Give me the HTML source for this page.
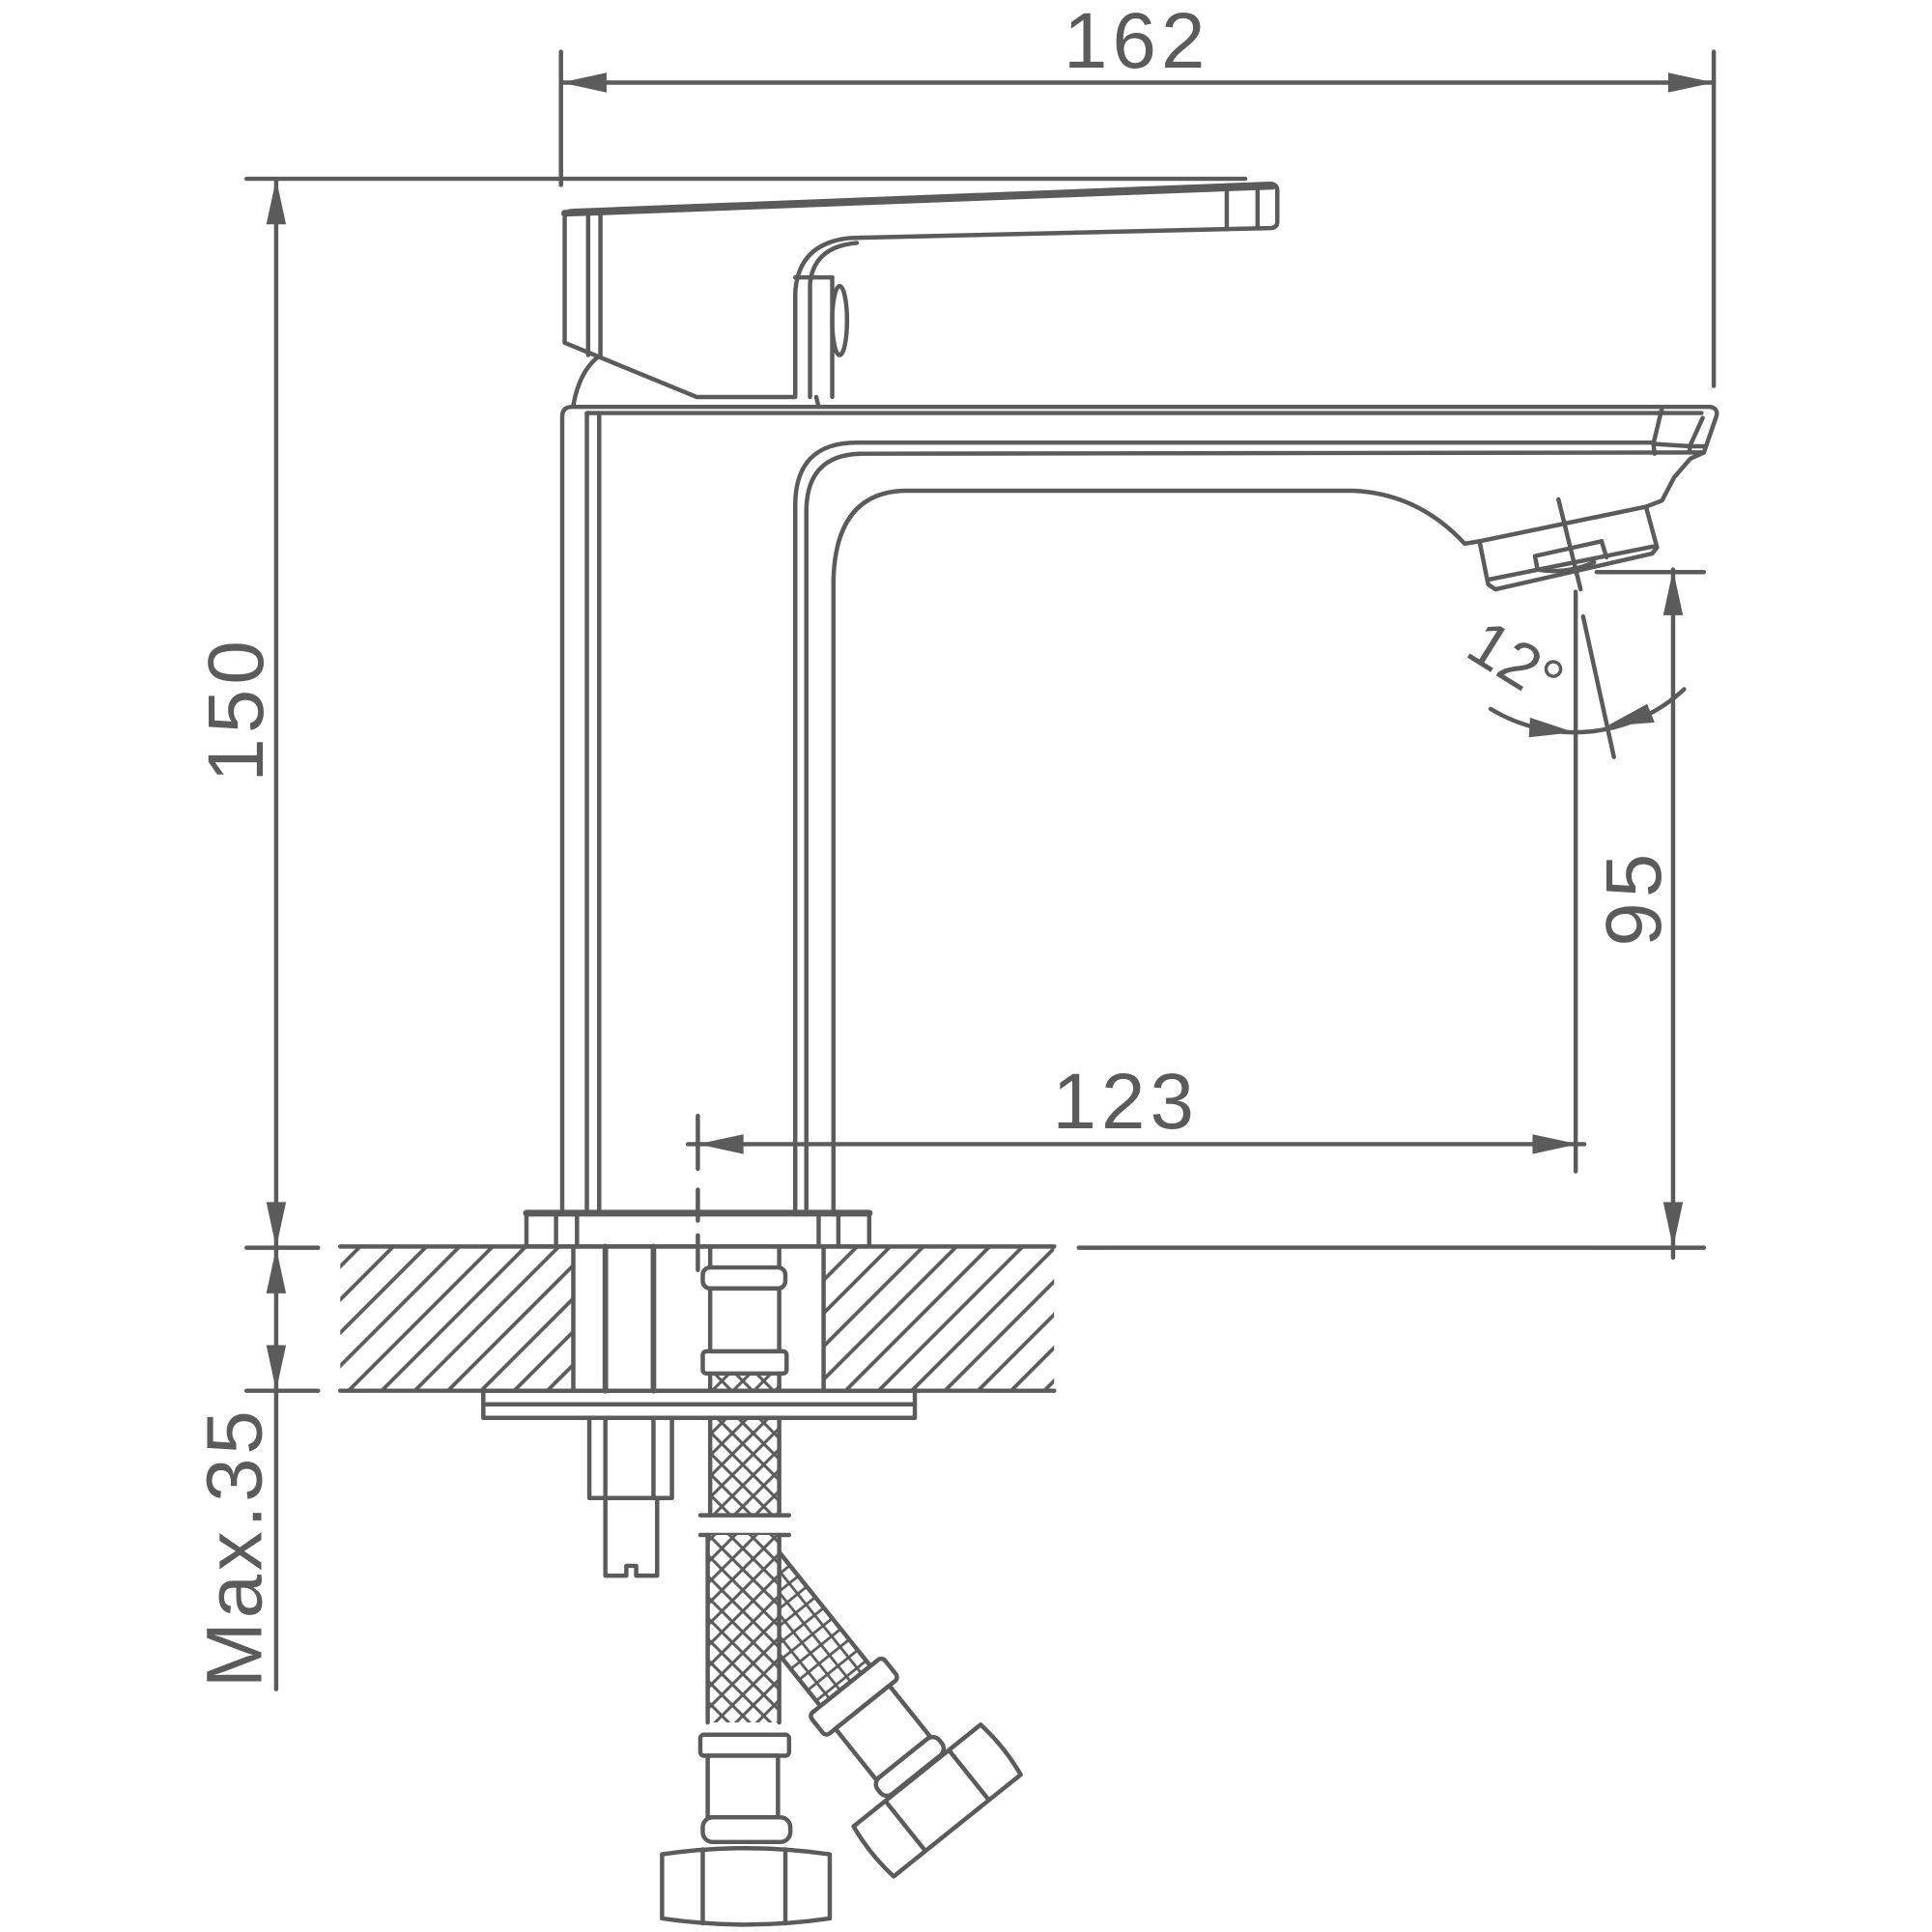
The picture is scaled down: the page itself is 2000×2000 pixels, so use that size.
<!DOCTYPE html>
<html><head><meta charset="utf-8"><style>html,body{margin:0;padding:0;background:#fff}svg{display:block}</style></head><body>
<svg width="2000" height="2000" viewBox="0 0 1567 1567" xmlns="http://www.w3.org/2000/svg">
<defs>
<pattern id="h" width="19" height="10" patternUnits="userSpaceOnUse" patternTransform="rotate(45)"><line x1="9.5" y1="-1" x2="9.5" y2="11" stroke="#5b5b5b" stroke-width="3"/></pattern>
<pattern id="b" width="12" height="12" patternUnits="userSpaceOnUse" patternTransform="rotate(45)"><line x1="6" y1="0" x2="6" y2="12" stroke="#5b5b5b" stroke-width="2.4"/><line x1="0" y1="6" x2="12" y2="6" stroke="#5b5b5b" stroke-width="2.4"/></pattern>
<pattern id="g" width="11" height="11" patternUnits="userSpaceOnUse"><line x1="5.5" y1="0" x2="5.5" y2="11" stroke="#5b5b5b" stroke-width="2.2"/><line x1="0" y1="5.5" x2="11" y2="5.5" stroke="#5b5b5b" stroke-width="2.2"/></pattern>
</defs>
<g fill="none" stroke="#5b5b5b" stroke-width="3.5" stroke-linecap="round" stroke-linejoin="round">
<line x1="455" y1="42" x2="455" y2="150"/>
<line x1="1390" y1="42" x2="1390" y2="313"/>
<line x1="455" y1="67" x2="1390" y2="67"/>
<line x1="200" y1="145" x2="1010" y2="145"/>
<line x1="224" y1="145" x2="224" y2="1370"/>
<line x1="200" y1="1012" x2="258" y2="1012"/>
<line x1="200" y1="1128" x2="258" y2="1128"/>
<line x1="1357" y1="462" x2="1357" y2="1020"/>
<line x1="1295" y1="464" x2="1382" y2="464"/>
<line x1="875" y1="1012" x2="1382" y2="1012"/>
<line x1="558" y1="928" x2="1285" y2="928"/>
<line x1="566" y1="905" x2="566" y2="948"/>
<line x1="566" y1="965" x2="566" y2="990"/>
<line x1="566" y1="1002" x2="566" y2="1030"/>
<line x1="1278" y1="480" x2="1278" y2="950"/>
<line x1="1264" y1="405" x2="1282" y2="478"/>
<line x1="1284" y1="500" x2="1309" y2="614"/>
<path d="M1209,575 A131,131 0 0 0 1366,559"/>

<path d="M458,278 L458,177 Q458,171 465,171 L1030,149 Q1036,149 1036,155 L1036,180 Q1036,185 1030,185 L690,193 Q647,197 645,238 L645,322 L565,322 Z"/>
<line x1="458" y1="173" x2="1032" y2="151" stroke-width="5.5"/>
<line x1="995" y1="152" x2="995" y2="186"/>
<line x1="1020" y1="151" x2="1020" y2="185"/>
<line x1="477" y1="172" x2="477" y2="288"/>
<line x1="487" y1="172" x2="487" y2="288"/>
<path d="M465,329 Q470,300 487,288"/>
<path d="M657,322 L657,230 Q660,200 695,197"/>
<line x1="645" y1="225" x2="675" y2="225"/>
<line x1="675" y1="225" x2="675" y2="322"/>
<ellipse cx="681" cy="260" rx="6" ry="28"/>
<line x1="662" y1="322" x2="664" y2="330"/>

<path d="M456,985 L456,338 Q456,330 464,330 L1387,330 Q1394,331 1392,338 L1382,367 L1371,372 L1358,387 L1348,406 L1335,411"/>
<line x1="476" y1="335" x2="1380" y2="335"/>
<line x1="476" y1="335" x2="476" y2="985"/>
<line x1="486" y1="335" x2="486" y2="985"/>
<path d="M645,985 L645,410 Q645,359 695,359 L1341,359"/>
<path d="M654,985 L654,415 Q654,368 700,368 L1382,367"/>
<path d="M676,985 L676,470 Q678,400 733,398 L1097,398 Q1150,400 1188,441 L1200,439"/>
<path d="M1348,331 L1341,360 L1342,368"/>
<path d="M1381,339 L1371,361 L1370,367"/>
<path d="M1341,360 L1371,362 L1382,362"/>
<polygon points="1200,439 1335,411 1344,444 1340,449 1213,478 1207,474"/>
<line x1="1208" y1="470" x2="1342" y2="443"/>
<polyline points="1247,462 1245,451 1299,439 1303,452"/>
<path d="M1247,462 Q1270,466 1293,456"/>

<rect x="427" y="984" width="278" height="27"/>
<line x1="427" y1="984" x2="705" y2="984" stroke-width="5.5"/>
<line x1="451" y1="984" x2="451" y2="1011"/>
<line x1="468" y1="984" x2="468" y2="1011"/>
<line x1="664" y1="984" x2="664" y2="1011"/>
<line x1="680" y1="984" x2="680" y2="1011"/>
</g>

<rect x="276" y="1011" width="189" height="117" fill="url(#h)"/>
<rect x="668" y="1011" width="187" height="117" fill="url(#h)"/>
<g fill="none" stroke="#5b5b5b" stroke-width="3.5" stroke-linecap="round" stroke-linejoin="round">
<line x1="276" y1="1011" x2="855" y2="1011"/>
<line x1="276" y1="1128" x2="855" y2="1128"/>
<line x1="465" y1="1011" x2="465" y2="1128"/>
<line x1="668" y1="1011" x2="668" y2="1128"/>
<line x1="491" y1="1011" x2="491" y2="1128" stroke-width="4.5"/>
<line x1="530" y1="1011" x2="530" y2="1128" stroke-width="4.5"/>
<line x1="576" y1="1011" x2="576" y2="1028"/>
<line x1="632" y1="1011" x2="632" y2="1028"/>
<rect x="570" y="1028" width="67" height="17" rx="6"/>
<line x1="576" y1="1045" x2="576" y2="1096"/>
<line x1="632" y1="1045" x2="632" y2="1096"/>
<rect x="570" y="1096" width="68" height="18" rx="3"/>
</g>
<rect x="576" y="1114" width="56" height="14" fill="url(#b)"/>
<rect x="576" y="1150" width="56" height="79" fill="url(#b)"/>
<g fill="none" stroke="#5b5b5b" stroke-width="3.5" stroke-linecap="round" stroke-linejoin="round">
<line x1="576" y1="1114" x2="576" y2="1128"/>
<line x1="632" y1="1114" x2="632" y2="1128"/>
<rect x="392" y="1128" width="350" height="22"/>
<line x1="392" y1="1139" x2="742" y2="1139"/>
<rect x="478" y="1150" width="67" height="65"/>
<line x1="491" y1="1150" x2="491" y2="1215"/>
<line x1="530" y1="1150" x2="530" y2="1215"/>
<path d="M491,1215 L491,1278 L508,1278 L508,1270 L516,1270 L516,1278 L533,1278 L533,1215"/>
<line x1="576" y1="1150" x2="576" y2="1229"/>
<line x1="632" y1="1150" x2="632" y2="1229"/>
<line x1="568" y1="1229" x2="640" y2="1229"/>
<line x1="568" y1="1245" x2="640" y2="1245"/>
</g>

<g transform="translate(685.7,1367.5) rotate(-38.7)">
<rect x="-26" y="-125" width="52" height="125" fill="url(#g)" stroke="#5b5b5b" stroke-width="3.5"/>
<g fill="#fff" stroke="#5b5b5b" stroke-width="3.5" stroke-linejoin="round">
<rect x="-38" y="0" width="76" height="22" rx="4"/>
<rect x="-28" y="22" width="56" height="53"/>
<rect x="-32" y="75" width="64" height="17" rx="7"/>
<path d="M-66,93 L66,93 Q70,119 66,145 L-66,145 Q-70,119 -66,93 Z"/>
<line x1="-33" y1="93" x2="-33" y2="145"/>
<line x1="33" y1="93" x2="33" y2="145"/>
</g>
</g>

<rect x="574" y="1245" width="58" height="152" fill="#fff"/>
<rect x="574" y="1245" width="58" height="152" fill="url(#b)"/>
<g fill="#fff" stroke="#5b5b5b" stroke-width="3.5" stroke-linecap="round" stroke-linejoin="round">
<line x1="574" y1="1245" x2="574" y2="1397"/>
<line x1="632" y1="1245" x2="632" y2="1397"/>
<rect x="568" y="1407" width="72" height="17" rx="3"/>
<rect x="574" y="1424" width="57" height="50"/>
<rect x="570" y="1474" width="71" height="20" rx="8"/>
<path d="M537,1504 Q605,1494 673,1504 L673,1556 Q605,1566 537,1556 Z"/>
<line x1="570" y1="1500" x2="570" y2="1560"/>
<line x1="637" y1="1500" x2="637" y2="1560"/>
</g>

<g fill="#5b5b5b" stroke="none">
<polygon points="455,67 492,59 492,75"/>
<polygon points="1390,67 1353,59 1353,75"/>
<polygon points="224,145 216,182 232,182"/>
<polygon points="224,1012 216,975 232,975"/>
<polygon points="224,1012 216,1049 232,1049"/>
<polygon points="224,1128 216,1091 232,1091"/>
<polygon points="1357,462 1349,499 1365,499"/>
<polygon points="1357,1012 1349,975 1365,975"/>
<polygon points="566,928 603,920 603,936"/>
<polygon points="1280,928 1243,920 1243,936"/>
<polygon points="1277,594 1241,582 1240,598"/>
<polygon points="1303,589 1336,571 1342,586"/>
</g>

<g fill="#5b5b5b" font-family="'Liberation Sans', sans-serif" font-size="64">
<text x="922" y="55" text-anchor="middle" letter-spacing="4">162</text>
<text x="913" y="915" text-anchor="middle" letter-spacing="4">123</text>
<text transform="translate(213,575) rotate(-90)" text-anchor="middle" letter-spacing="4">150</text>
<text transform="translate(212,1255) rotate(-90)" text-anchor="middle" letter-spacing="3">Max.35</text>
<text transform="translate(1347,728) rotate(-90)" text-anchor="middle" letter-spacing="4">95</text>
<text transform="translate(1220,552) rotate(32)" text-anchor="middle" font-size="52">12°</text>
</g>
</svg>
</body></html>
